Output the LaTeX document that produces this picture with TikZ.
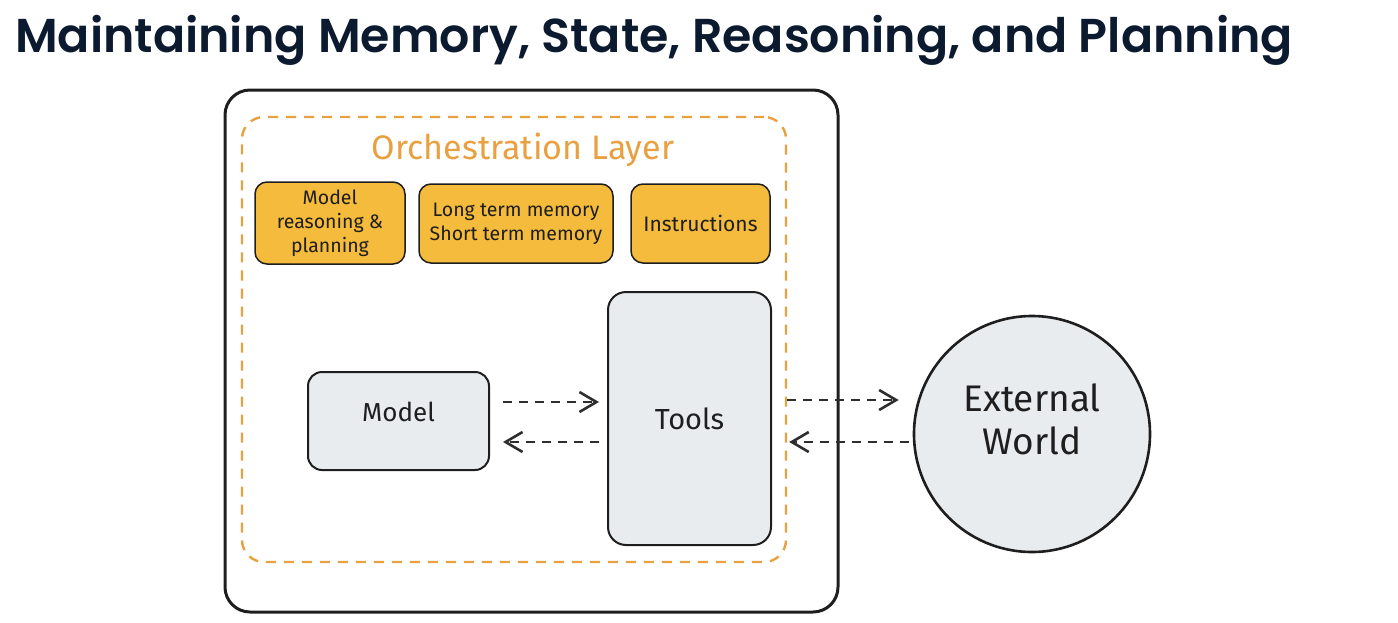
\documentclass[tikz,border=0pt]{standalone}
\usepackage{fontspec}
\setmainfont{Fira Sans}
\newfontfamily\titlefont{Poppins}[BoldFont={Poppins SemiBold}]
\usetikzlibrary{arrows.meta,calc}
\definecolor{titlenavy}{HTML}{0B1A2E}
\definecolor{orchorange}{HTML}{E8A040}
\definecolor{yellowfill}{HTML}{F4BB3C}
\definecolor{greyfill}{HTML}{E9ECEF}
\definecolor{inkdark}{HTML}{1E1E1E}
\definecolor{arrowgrey}{HTML}{2E2E2E}
\begin{document}
\begin{tikzpicture}[x=1pt,y=-1pt,
  outerbox/.style={draw=inkdark,line width=3pt,rounded corners=25pt,inner sep=0pt},
  orchbox/.style={draw=orchorange,line width=2.4pt,dash pattern=on 10pt off 8pt,rounded corners=22pt,inner sep=0pt},
  yellowbox/.style={draw=inkdark,fill=yellowfill,line width=1.5pt,rounded corners=12pt,inner sep=0pt,align=center,font=\fontsize{19.5}{24}\selectfont,text=inkdark},
  greybox/.style={draw=inkdark,fill=greyfill,line width=2pt,inner sep=0pt,align=center,text=inkdark},
  worldnode/.style={circle,draw=inkdark,fill=greyfill,line width=2.6pt,inner sep=0pt,align=center,font=\fontsize{37}{42}\selectfont,text=inkdark},
  flowarrow/.style={draw=arrowgrey,line width=2.2pt,dash pattern=on 9pt off 7pt,-{Straight Barb[length=17pt,width=20pt,line width=2.6pt]}}
]
\useasboundingbox (0,0) rectangle (1398,622);
% title
\node[anchor=base west,inner sep=0pt,text=titlenavy,font=\titlefont\bfseries\fontsize{47.5}{50}\selectfont] (title) at (15,52) {Maintaining Memory, State, Reasoning, and Planning};
% containers
\node[outerbox,minimum width=613pt,minimum height=522pt] (outer) at (531.5,351) {};
\node[orchbox,minimum width=544pt,minimum height=445pt] (orch) at (514,339.5) {};
\node[text=orchorange,font=\fontsize{34}{38}\selectfont,inner sep=0pt] (orchlabel) at (523,150) {Orchestration Layer};
% yellow boxes
\node[yellowbox,minimum width=150pt,minimum height=82pt] (reason) at (330,223) {Model\\reasoning \&\\planning};
\node[yellowbox,minimum width=194pt,minimum height=79pt] (memory) at (516,223.5) {Long term memory\\Short term memory};
\node[yellowbox,minimum width=139pt,minimum height=79pt,font=\fontsize{21}{24}\selectfont] (instr) at (700.5,223.5) {Instructions};
% model and tools
\node[greybox,rounded corners=14pt,minimum width=181pt,minimum height=98pt,font=\fontsize{26}{30}\selectfont] (model) at (398.5,421) {\raisebox{19pt}{Model}};
\node[greybox,rounded corners=18pt,minimum width=163pt,minimum height=253pt,font=\fontsize{29}{32}\selectfont] (tools) at (689.5,418.5) {Tools};
% external world
\node[worldnode,minimum size=236pt] (world) at (1032,434) {\raisebox{55pt}{\begin{tabular}{@{}c@{}}External\\[1pt]World\end{tabular}}};
% arrows model <-> tools
\draw[flowarrow,shorten <=13pt,shorten >=8pt] ([yshift=19pt]model.east) -- ([yshift=19pt]model.east -| tools.west);
\draw[flowarrow,shorten <=8pt,shorten >=13pt] ([yshift=-21pt]model.east -| tools.west) -- ([yshift=-21pt]model.east);
% arrows orchestration <-> world
\draw[flowarrow,shorten >=14pt] ([yshift=-60.5pt]orch.east) -- ([yshift=-60.5pt]orch.east -| world.west);
\draw[flowarrow,shorten <=4pt,shorten >=2pt] ([yshift=-102.5pt]orch.east -| world.west) -- ([yshift=-102.5pt]orch.east);
\end{tikzpicture}
\end{document}
